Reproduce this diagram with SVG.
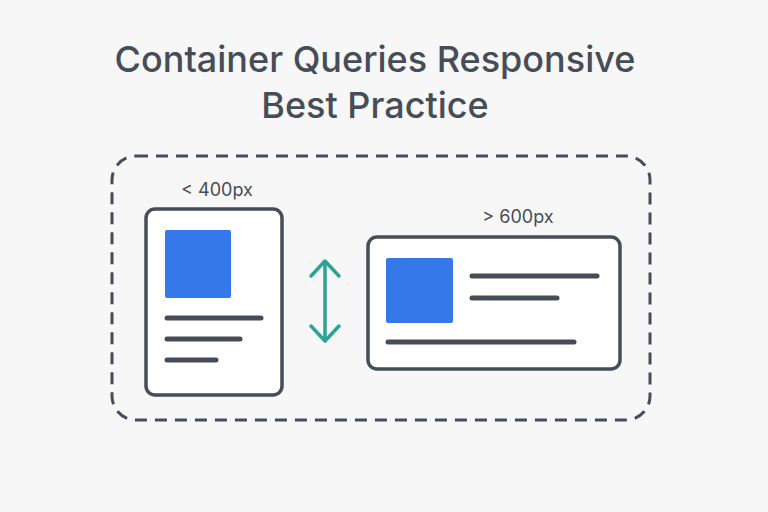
<svg xmlns="http://www.w3.org/2000/svg" width="768" height="512" viewBox="0 0 768 512">
<style>
.t{font-family:Inter,"Liberation Sans",sans-serif;fill:#474d57;text-anchor:middle}
.card{fill:#fff;stroke:#474d57;stroke-width:3.5}
.ln{stroke:#474d57;stroke-width:5;stroke-linecap:round}
.blue{fill:#3478ea}
</style>
<rect width="768" height="512" fill="#f7f7f7"/>
<text class="t" x="375" y="72" font-size="36" font-weight="500">Container Queries Responsive</text>
<text class="t" x="375" y="118" font-size="36" font-weight="500">Best Practice</text>
<rect x="112" y="156" width="538" height="264" rx="24" fill="none" stroke="#474d57" stroke-width="3" stroke-dasharray="12 8"/>
<g id="small">
<text class="t" x="217" y="196" font-size="18">&lt; 400px</text>
<rect class="card" x="146" y="209" width="136" height="186" rx="9"/>
<rect class="blue" x="165" y="230" width="66" height="68" rx="2"/>
<line class="ln" x1="167" y1="318" x2="261" y2="318"/>
<line class="ln" x1="167" y1="339" x2="240" y2="339"/>
<line class="ln" x1="167" y1="360" x2="216" y2="360"/>
</g>
<g id="large">
<text class="t" x="518" y="223" font-size="18">&gt; 600px</text>
<rect class="card" x="368" y="237" width="252" height="132" rx="9"/>
<rect class="blue" x="386" y="258" width="67" height="65" rx="2"/>
<line class="ln" x1="472" y1="276" x2="597" y2="276"/>
<line class="ln" x1="472" y1="298" x2="557" y2="298"/>
<line class="ln" x1="388" y1="342" x2="574" y2="342"/>
</g>
<g id="connectors" fill="none" stroke="#2aa595" stroke-width="3.5" stroke-linecap="round" stroke-linejoin="round">
<line x1="325" y1="262" x2="325" y2="340"/>
<polyline points="311,276 325,261 339,276"/>
<polyline points="311,326 325,341 339,326"/>
</g>
</svg>
